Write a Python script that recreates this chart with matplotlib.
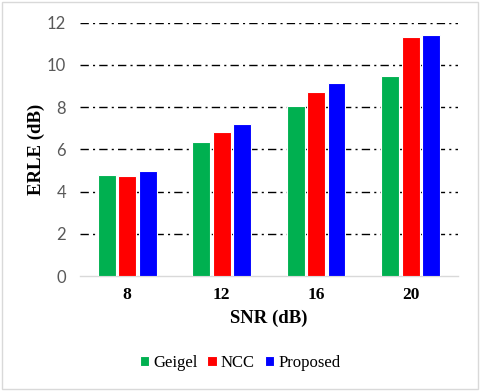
import matplotlib
matplotlib.use("Agg")
import matplotlib.pyplot as plt
import numpy as np
from matplotlib.patches import Rectangle

categories = ["8", "12", "16", "20"]
series_names = ["Geigel", "NCC", "Proposed"]
geigel = [4.79, 6.35, 8.07, 9.49]
ncc = [4.74, 6.82, 8.72, 11.31]
proposed = [4.98, 7.18, 9.15, 11.42]
yticks = [0, 2, 4, 6, 8, 10, 12]

colors = ["#00B050", "#FF0000", "#0000FF"]

fig = plt.figure(figsize=(4.8, 3.91), dpi=100)
ax = fig.add_axes([0.1667, 0.294, 0.7873, 0.648])

x = np.arange(len(categories))
step = 0.215
width = 0.19
for i, (vals, name, c) in enumerate(zip([geigel, ncc, proposed], series_names, colors)):
    ax.bar(x + (i - 1) * step, vals, width, color=c, label=name,
           edgecolor="white", linewidth=0.8, zorder=3)

ax.set_xlim(-0.5, 3.5)
ax.set_ylim(0, 12)
ax.set_yticks(yticks)
ax.set_xticks(x)
ax.set_xticklabels(categories, fontfamily="Liberation Serif", fontweight="bold", fontsize=12.5)
for lab in ax.get_yticklabels():
    lab.set_fontfamily("Lato")
    lab.set_fontsize(12)
    lab.set_color("#595959")
ax.tick_params(axis="y", length=0, pad=10)
ax.tick_params(axis="x", length=0, pad=8)

for v in yticks[1:]:
    ax.axhline(v, color="black", linestyle=(0, (6, 3, 1.5, 3)), linewidth=1.0, zorder=1)

for s in ["top", "right", "left"]:
    ax.spines[s].set_visible(False)
ax.spines["bottom"].set_color("#D9D9D9")
ax.spines["bottom"].set_linewidth(1.0)

ax.set_ylabel("ERLE (dB)", fontfamily="Liberation Serif", fontweight="bold", fontsize=13.5, labelpad=1)
ax.set_xlabel("SNR (dB)", fontfamily="Liberation Serif", fontweight="bold", fontsize=13.5, labelpad=5)

leg = fig.legend(loc="center", bbox_to_anchor=(0.5, 0.072), ncol=3, frameon=False,
                 prop={"family": "Liberation Serif", "size": 12},
                 handlelength=0.55, handleheight=0.55, handletextpad=0.25, columnspacing=0.6)

fig.patches.append(Rectangle((0.004, 0.004), 0.992, 0.99, transform=fig.transFigure,
                             fill=False, edgecolor="#D9D9D9", linewidth=1.0))

fig.savefig("out.png", dpi=100)
